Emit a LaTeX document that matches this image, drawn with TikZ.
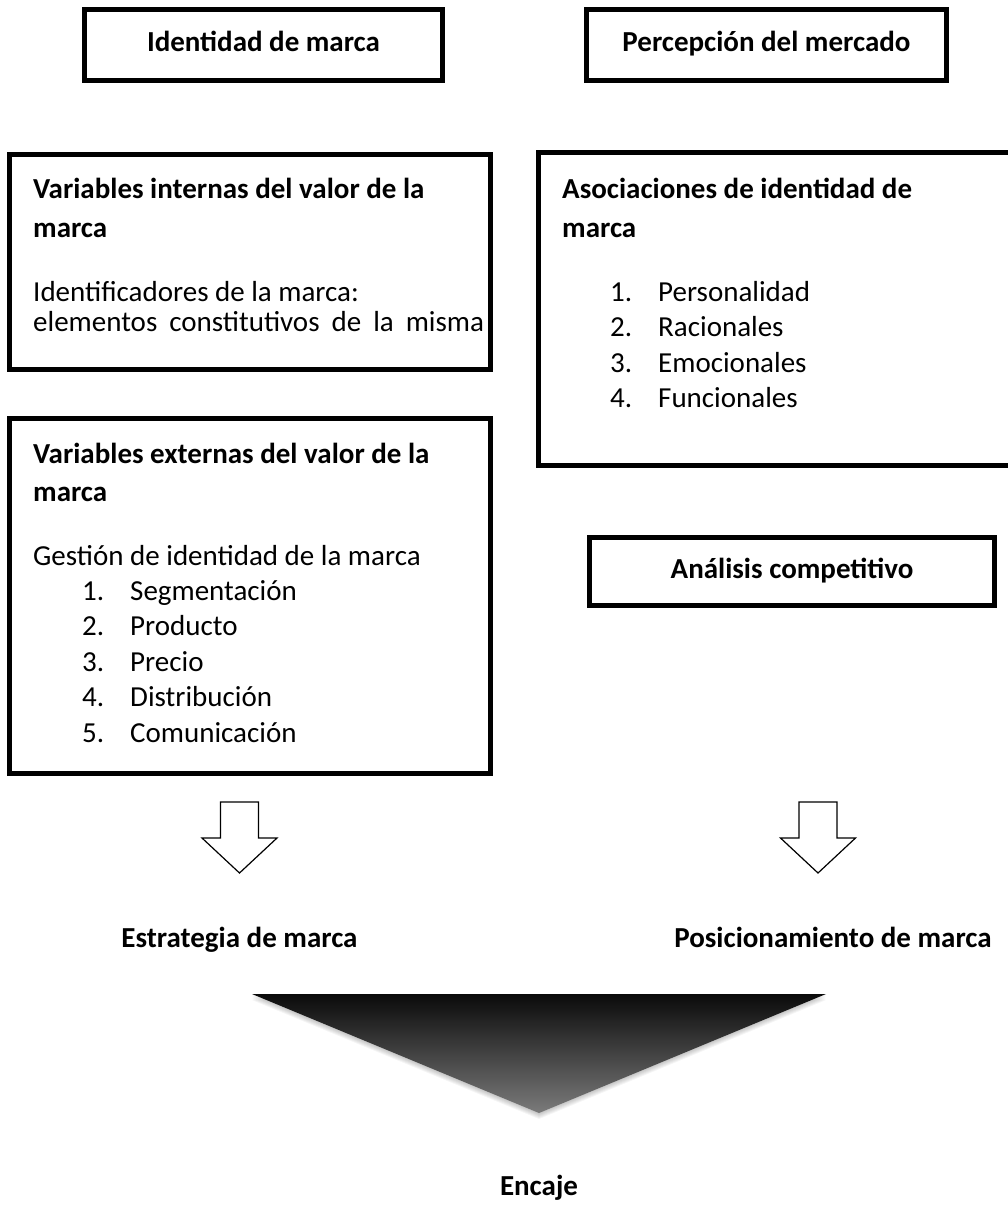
\documentclass[tikz,border=0pt]{standalone}
\usepackage{fontspec}
\setmainfont{Carlito}

\tikzset{
  frame/.style={draw=black, line width=5pt, inner sep=0pt, text height=20pt, text depth=6pt},
  txt/.style={anchor=base west, inner sep=0pt},
  lbl/.style={anchor=base, inner sep=0pt, font=\fontsize{29}{35}\selectfont\bfseries},
  blockarrow/.style={draw=black, line width=1.2pt, fill=white, line join=miter},
}

\begin{document}
\begin{tikzpicture}[x=1pt, y=-1pt, font=\fontsize{29}{35}\selectfont]
    % Fix the page to the size of the reference
    \useasboundingbox (0,0) rectangle (1008,1206);

    % Header boxes
    \node[frame, minimum width=358, minimum height=71] (identidad) at (263.5,45) {\bfseries Identidad de marca};
    \node[frame, minimum width=360, minimum height=71] (percepcion) at (766.5,45) {\bfseries Percepción del mercado};

    % Internal variables
    \node[frame, minimum width=481, minimum height=215] (internas) at (250,262) {};
    \node[txt] (intTitle) at (33,199) {\bfseries Variables internas del valor de la};
    \node[txt] (intTitleB) at (33,237) {\bfseries marca};
    \node[txt] (intText) at (33,301) {Identificadores de la marca:};
    \node[txt] (intTextB) at (33,331) {\spaceskip=12pt elementos constitutivos de la misma};

    % External variables
    \node[frame, minimum width=481, minimum height=355] (externas) at (250,596) {};
    \node[txt] (extTitle) at (33,463) {\bfseries Variables externas del valor de la};
    \node[txt] (extTitleB) at (33,501) {\bfseries marca};
    \node[txt] (extText) at (33,565) {Gestión de identidad de la marca};
    \foreach \n/\item in {1/Segmentación, 2/Producto, 3/Precio, 4/Distribución, 5/Comunicación} {
        \node[txt] (extNum\n) at (82,{565+35.4*\n}) {\n.};
        \node[txt] (extItem\n) at (130,{565+35.4*\n}) {\item};
    }

    % Brand identity associations (box runs past the right edge)
    \node[frame, minimum width=479, minimum height=313] (asociaciones) at (778,309) {};
    \node[txt] (asoTitle) at (562,199) {\bfseries Asociaciones de identidad de};
    \node[txt] (asoTitleB) at (562,237) {\bfseries marca};
    \foreach \n/\item in {1/Personalidad, 2/Racionales, 3/Emocionales, 4/Funcionales} {
        \node[txt] (asoNum\n) at (610,{265.5+35.6*\n}) {\n.};
        \node[txt] (asoItem\n) at (658,{265.5+35.6*\n}) {\item};
    }

    % Competitive analysis
    \node[frame, minimum width=405, minimum height=68] (analisis) at (792,571.5) {\bfseries Análisis competitivo};

    % Block arrows
    \coordinate (flechaL) at (239.5,802);
    \coordinate (flechaR) at (818,802);
    \foreach \c in {flechaL, flechaR}
        \draw[blockarrow] (\c) ++(-19,0) -- ++(38,0) -- ++(0,36) -- ++(18.5,0)
            -- ++(-37.5,35) -- ++(-37.5,-35) -- ++(18.5,0) -- cycle;

    \node[lbl] (estrategia) at (239.5,947) {Estrategia de marca};
    \node[lbl] (posicionamiento) at (833,947) {Posicionamiento de marca};

    % Funnel triangle with a soft shadow
    \coordinate (encL) at (252,994);
    \coordinate (encR) at (826,994);
    \coordinate (encP) at (539,1113);
    \foreach \s in {1,...,6}
        \fill[black, opacity=0.04] ([shift={(0,\s)}]encL) -- ([shift={(0,\s)}]encR) -- ([shift={(0,\s)}]encP) -- cycle;
    \shade[top color=black!96, bottom color=black!52] (encL) -- (encR) -- (encP) -- cycle;

    \node[lbl] (encaje) at (539,1195) {Encaje};
\end{tikzpicture}
\end{document}
